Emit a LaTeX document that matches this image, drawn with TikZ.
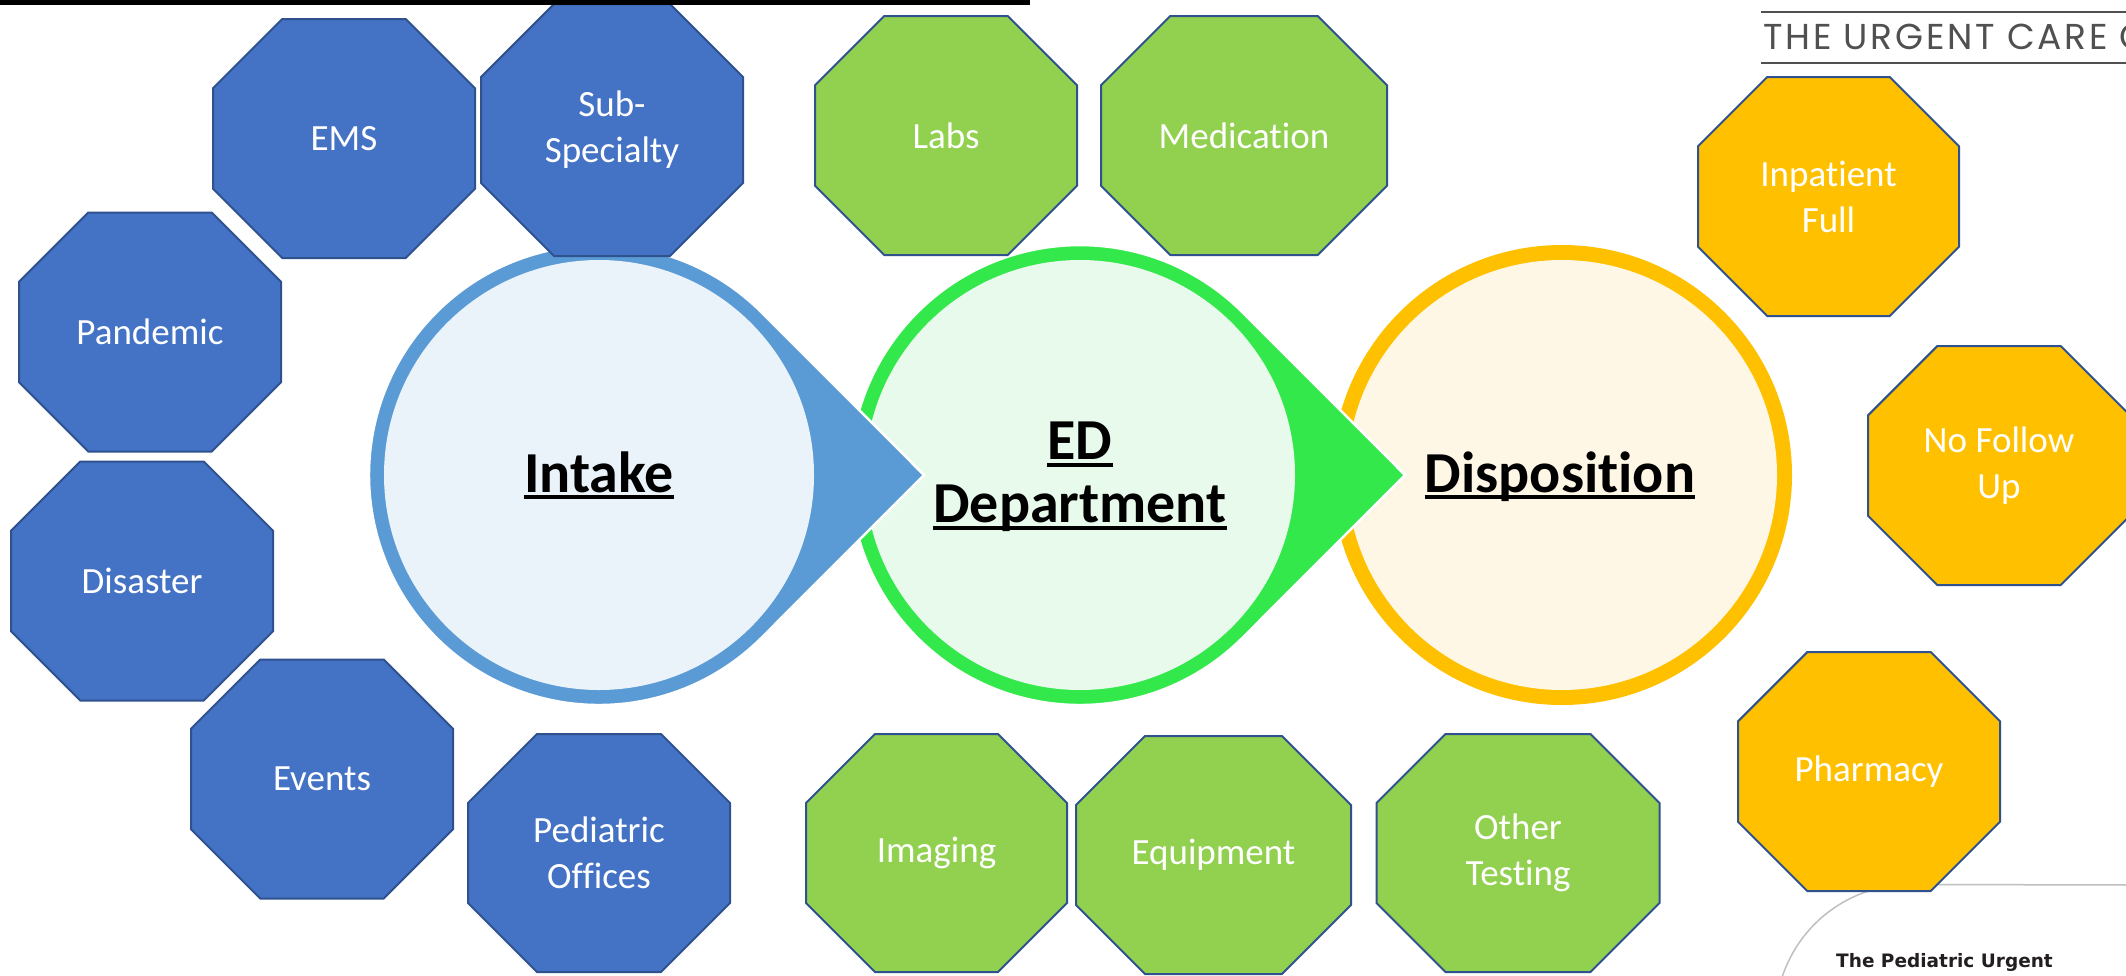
\documentclass[tikz,border=0pt]{standalone}
\usepackage{fontspec}
\setmainfont{Carlito}[Ligatures={NoCommon,NoContextual}]
\newfontfamily\urgentfont{Poppins}[LetterSpace=7.5]
\newfontfamily\pedfont{DejaVu Sans}

\definecolor{octblue}{HTML}{4472C4}
\definecolor{octgreen}{HTML}{92D050}
\definecolor{octorange}{HTML}{FFC000}
\definecolor{octedge}{HTML}{2F528F}
\definecolor{intakering}{HTML}{5B9BD5}
\definecolor{intakefill}{HTML}{EBF3FA}
\definecolor{edring}{HTML}{33E84A}
\definecolor{edfill}{HTML}{E8FAEC}
\definecolor{dispring}{HTML}{FFC000}
\definecolor{dispfill}{HTML}{FFF7E6}
\definecolor{urggray}{RGB}{80,80,80}
\definecolor{pedgray}{RGB}{35,31,32}

\tikzset{
  octline/.style={draw=octedge, line width=2pt, line join=miter},
  octtext/.style={text=white, align=center, inner sep=0pt, font=\fontsize{37}{46}\selectfont},
  bigtext/.style={anchor=base, inner sep=0pt, font=\fontsize{58}{65}\selectfont\bfseries},
  uline/.style={line width=3.5pt},
  drop/.style={draw=white, line width=2.5pt}
}

% octagon: fill, name, x, y, width, height, text
\newcommand{\octagon}[7]{%
  \begin{scope}[shift={(#3,#4)}]
    \pgfmathsetmacro\octA{#5/2}
    \pgfmathsetmacro\octB{#6/2}
    \pgfmathsetmacro\octC{0.29*min(#5,#6)}
    \filldraw[octline, fill=#1] ({-\octA+\octC},{-\octB}) -- ({\octA-\octC},{-\octB})
      -- ({\octA},{-\octB+\octC}) -- ({\octA},{\octB-\octC}) -- ({\octA-\octC},{\octB})
      -- ({-\octA+\octC},{\octB}) -- ({-\octA},{\octB-\octC}) -- ({-\octA},{-\octB+\octC}) -- cycle;
  \end{scope}
  \node[octtext] (#2) at (#3,#4) {#7};
}

\begin{document}
\begin{tikzpicture}[x=1pt,y=-1pt]
\useasboundingbox (0,0) rectangle (2126,975);
\clip (0,0) rectangle (2126,975);
\fill[white] (0,0) rectangle (2126,975);

% logo bits on the right
\draw[draw=urggray, line width=2pt] (1761,12) -- (2126,12);
\draw[draw=urggray, line width=2pt] (1761,63) -- (2126,63);
\node[anchor=base west, inner sep=0pt, text=urggray, font=\urgentfont\fontsize{36}{40}\selectfont] (urgent) at (1763,49) {THE URGENT CARE C};
\draw[draw=black!25, line width=1.5pt] (1777.5,995.6) arc[start angle=190, end angle=270, radius=134.5] -- (2130,885);
\node[anchor=base west, inner sep=0pt, text=pedgray, font=\pedfont\bfseries\fontsize{18.5}{22}\selectfont] (pedtext) at (1836,967) {The Pediatric Urgent};

% the three stages
\fill[dispring] (1562,475) circle[radius=230];
\fill[dispfill] (1562,475) circle[radius=215];
\filldraw[drop, fill=edring] (1405,475) -- (1242.6,312.4) arc[start angle=-45, end angle=-315, radius=230] -- cycle;
\fill[edfill] (1080,475) circle[radius=215];
\filldraw[drop, fill=intakering] (924,475) -- (761.6,312.4) arc[start angle=-45, end angle=-315, radius=230] -- cycle;
\fill[intakefill] (599,475) circle[radius=215];

\node[bigtext] (intake) at (599,492) {Intake};
\draw[uline] ([yshift=-5pt]intake.base west) -- ([yshift=-5pt]intake.base east);
\node[bigtext] (ed) at (1080,459) {ED};
\draw[uline] ([yshift=-6pt]ed.base west) -- ([yshift=-6pt]ed.base east);
\node[bigtext] (dept) at (1080,522) {Department};
\draw[uline] ([yshift=-6pt]dept.base west) -- ([yshift=-6pt]dept.base east);
\node[bigtext] (disp) at (1560,492) {Disposition};
\draw[uline] ([yshift=-5pt]disp.base west) -- ([yshift=-5pt]disp.base east);

% intake sources
\octagon{octblue}{ems}{344}{138.5}{262}{239}{EMS}
\octagon{octblue}{subspec}{612}{130}{262}{252}{Sub-\\Specialty}
\octagon{octblue}{pandemic}{150}{332}{262}{239}{Pandemic}
\octagon{octblue}{disaster}{142}{581}{262}{239}{Disaster}
\octagon{octblue}{events}{322}{779}{262}{239}{Events}
\octagon{octblue}{pedoff}{599}{853}{262}{238}{Pediatric\\Offices}

% ED resources
\octagon{octgreen}{labs}{946}{135.5}{262}{239}{Labs}
\octagon{octgreen}{meds}{1244}{135.5}{286}{239}{Medication}
\octagon{octgreen}{imaging}{936.5}{853}{261}{238}{Imaging}
\octagon{octgreen}{equip}{1213.5}{855}{275}{238}{Equipment}
\octagon{octgreen}{othertest}{1518}{853}{283}{238}{Other\\Testing}

% disposition
\octagon{octorange}{inpatient}{1828.5}{196.5}{261}{239}{Inpatient\\Full}
\octagon{octorange}{nofollow}{1999}{465.5}{262}{239}{No Follow\\Up}
\octagon{octorange}{pharmacy}{1869}{771.5}{262}{239}{Pharmacy}

\fill[black] (0,0) rectangle (1030,5);
\end{tikzpicture}
\end{document}
